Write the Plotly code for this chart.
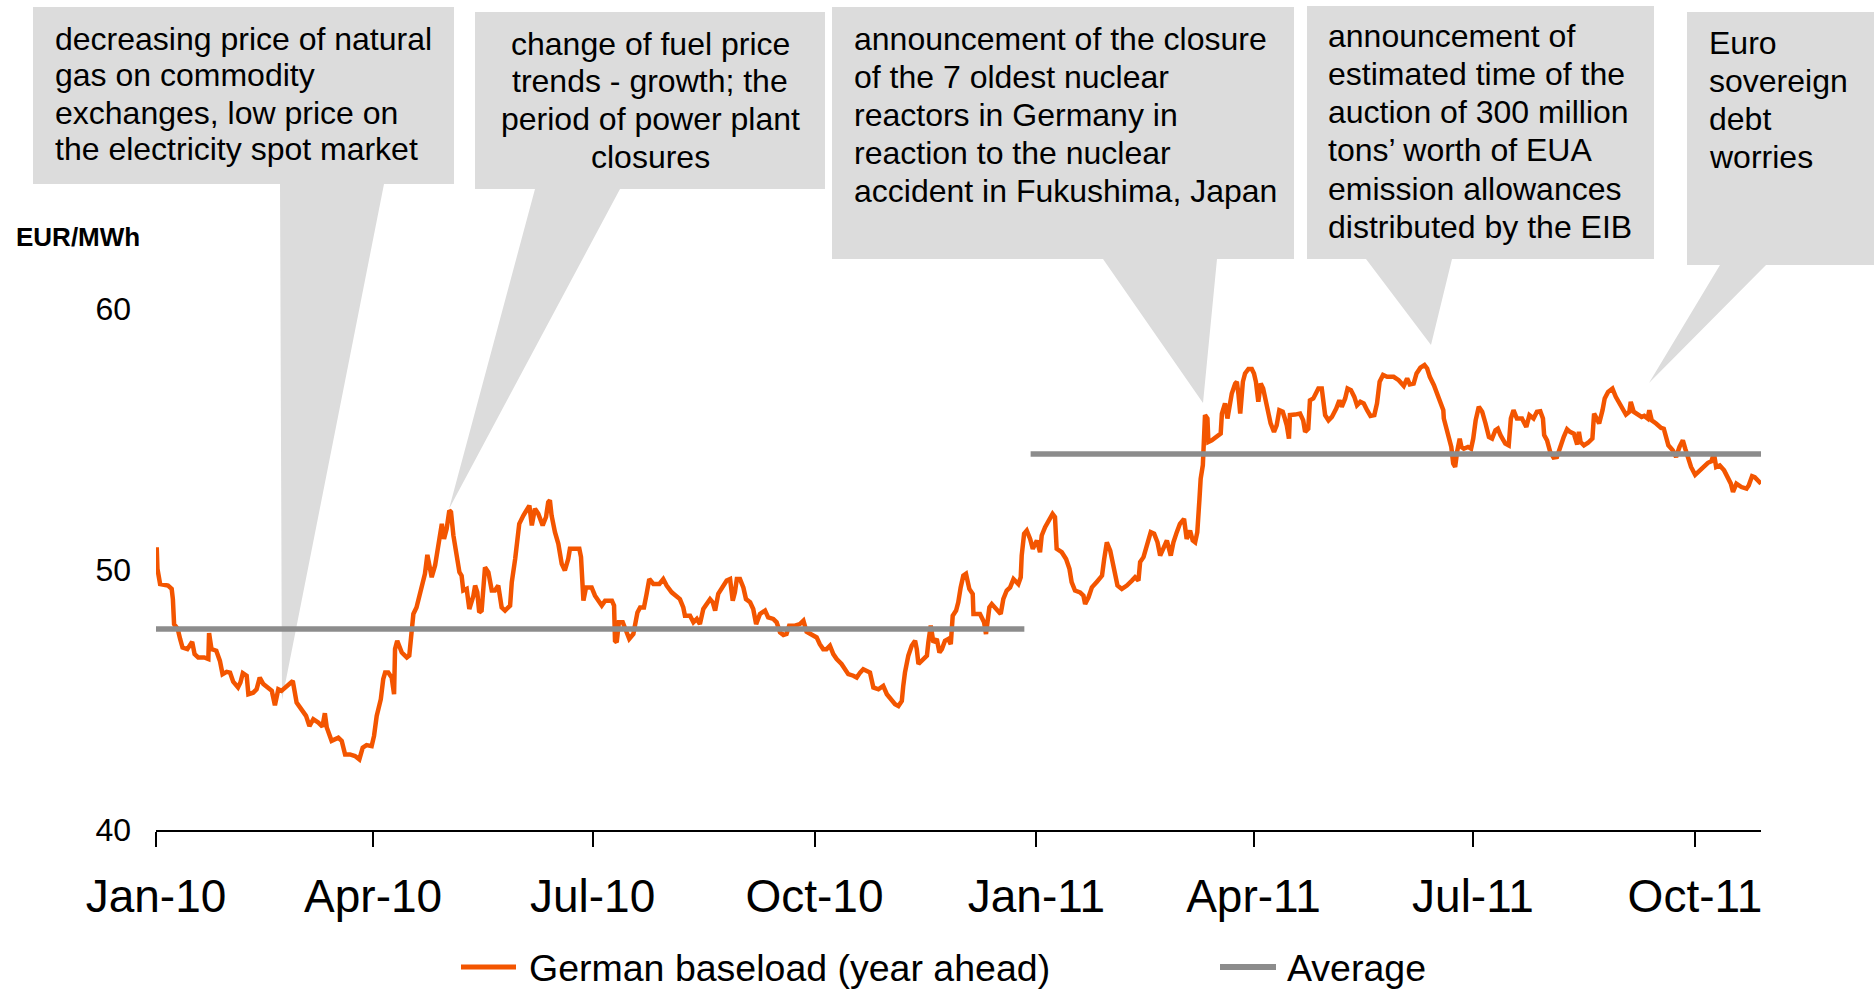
import pandas as pd
import plotly.graph_objects as go

# German baseload, year-ahead contract (EUR/MWh)
# x values are days counted from 1 Jan 2010
start = pd.Timestamp("2010-01-01")

days = [
    0.3, 0.6, 1.7, 5.0, 6.5, 7.0, 7.5, 9.0, 10.0, 11.0, 13.0, 15.0, 16.0, 17.5, 20.0, 21.7, 22.0, 23.0,
    25.0, 26.5, 27.6, 29.3, 30.7, 32.0, 34.0, 35.0, 36.0, 37.6, 38.3, 40.3, 41.7, 43.0, 44.5, 46.6, 48.0,
    49.3, 50.7, 52.0, 53.5, 56.7, 58.3, 60.4, 62.2, 63.6, 65.2, 67.3, 69.0, 70.0, 70.8, 72.8, 75.6, 77.0,
    78.4, 80.4, 82.5, 84.3, 85.7, 87.3, 89.4, 90.4, 91.5, 93.2, 94.2, 95.0, 96.3, 97.7, 98.7, 99.1, 100.0,
    101.9, 104.0, 105.0, 106.0, 106.7, 108.0, 109.4, 111.5, 112.5,
    114.3, 115.7, 117.0, 118.5, 119.4, 120.5, 121.6, 122.3, 123.3, 124.6, 125.8, 126.7, 127.4, 128.8,
    129.9, 131.6, 132.3, 133.2, 134.0, 135.0, 135.7, 136.4, 137.8, 139.2, 140.5, 141.9, 143.3, 144.7,
    146.8, 147.5, 148.9, 149.8, 150.6, 152.3, 153.7, 154.8, 155.8, 157.1, 158.5, 160.3, 161.7, 162.6,
    163.3, 164.0, 165.4, 166.8, 168.2, 169.5, 170.9, 171.6, 173.7, 175.5, 176.2, 177.2, 178.3, 180.6,
    182.0, 183.4, 184.8, 186.2, 189.0, 189.9, 190.3, 191.0, 191.9, 193.5, 195.1, 196.2, 197.9, 199.6,
    200.7, 202.3, 203.4, 204.5, 206.2, 208.7, 210.3, 211.7, 213.8, 215.2, 217.2, 218.6, 219.3, 221.4,
    222.8, 224.2, 225.5, 226.9, 228.3, 229.7, 230.8, 231.8, 233.1, 235.2, 236.6, 238.0, 239.1, 240.0,
    240.8, 242.1, 243.5, 244.6, 246.3, 247.6, 248.8, 250.4, 252.5, 253.8, 255.9, 257.3, 258.7, 260.1,
    261.4, 262.5, 264.9, 266.9, 268.4, 269.7, 271.8, 273.9, 275.2, 276.6, 278.0, 279.4, 280.8, 282.2,
    284.2, 285.6, 287.0, 289.1, 290.5, 291.9, 293.2, 296.0, 297.4, 299.5, 301.5, 303.0, 305.0, 306.4,
    307.8, 309.2, 309.8, 310.5, 311.9, 313.3, 314.7, 315.4, 316.1, 317.5, 319.6, 320.2, 321.2, 322.3,
    323.7, 324.8, 325.8, 327.1, 328.5, 329.5, 330.3, 331.7, 332.6, 333.6, 334.7, 335.8, 337.2,
    338.6, 338.9, 341.6, 343.3, 344.1, 345.5, 346.5, 348.6, 350.2, 351.3, 352.7, 354.1, 355.5, 357.5,
    358.5, 358.9, 359.9, 361.0, 362.4, 363.5, 365.2, 366.5, 367.2, 368.6, 370.0, 371.7, 372.7, 373.4,
    375.5, 377.3, 378.7, 379.6, 381.0, 383.1, 384.5, 385.2, 386.6, 388.0, 390.1, 392.2, 393.1, 394.2,
    395.6, 396.7, 397.6, 398.6, 400.4, 402.5, 404.6, 405.9, 407.3, 408.0, 409.4, 410.8, 412.4, 413.8,
    415.2, 416.3, 417.7, 419.1, 420.7, 421.8, 423.2, 424.5, 426.2, 427.3, 428.7, 429.8, 430.8, 431.7,
    432.6, 433.1, 434.0, 434.2, 434.9, 435.9, 436.3, 437.7, 439.8, 441.4, 441.9, 443.2, 444.2, 445.0,
    446.0, 447.4,
    448.1, 448.8, 449.5, 450.6, 451.5, 452.9, 454.3, 455.2, 456.0, 457.0, 458.0, 459.0, 460.2, 461.1,
    462.1, 463.5, 464.6, 465.7, 467.1, 468.0, 468.8, 469.7, 470.1, 472.2, 474.3, 475.6, 476.4, 477.7,
    478.4, 479.8, 480.9, 481.9, 483.3, 484.7, 486.1, 487.5, 489.3, 490.6, 491.6, 493.0, 494.0, 495.4,
    496.8, 497.9, 499.3, 500.7, 502.1, 503.5, 505.1, 506.2, 507.3, 508.7, 510.4, 513.1, 515.2, 517.3,
    518.7, 519.8, 521.4, 522.6, 524.2, 525.9, 527.0, 528.1, 529.8, 531.2, 532.6, 533.7, 533.9, 535.1,
    536.0, 537.0, 537.8, 538.6, 539.4, 540.5, 541.2, 542.2, 543.9, 545.2, 546.1, 547.1, 548.4, 549.8,
    551.2, 552.6, 553.9, 555.3, 556.3, 557.4, 559.4, 560.8,
    561.7, 562.8, 564.2, 566.3, 568.1, 569.4, 571.1, 572.5, 573.9, 575.0, 575.5, 576.7, 578.0, 579.4,
    580.8, 581.9, 583.6, 585.0, 586.2, 587.8, 589.2, 589.9, 590.6, 592.0, 593.7, 595.5, 596.2, 597.3,
    598.3, 599.7, 600.6, 602.0, 603.8, 605.2, 606.6, 608.0, 609.4, 610.8, 611.4, 612.6, 614.2, 615.9,
    617.0, 618.4, 619.1, 620.1, 621.9, 624.0, 625.1, 626.0, 627.0, 628.8, 630.2, 631.6, 633.0, 634.0,
    635.1, 636.4, 638.1, 639.9, 641.3, 643.4, 644.8, 645.9, 646.8, 648.3, 650.1, 651.8, 652.9, 653.8,
    655.2, 657.3, 659.4, 660.3, 661.7, 662.8, 664.0, 665.4,
]

price = [
    50.85, 50.02, 49.44, 49.38, 49.25, 48.86, 47.90, 47.71, 47.33, 47.00, 46.94, 47.22, 46.75, 46.62, 46.62, 46.56, 47.56, 46.94,
    46.88, 46.49, 45.98, 46.07, 46.04, 45.69, 45.47, 45.66, 46.02, 45.92, 45.21, 45.27, 45.40, 45.85, 45.60, 45.47, 45.34,
    44.79, 45.40, 45.34, 45.47, 45.72, 44.89, 44.63, 44.38, 43.99, 44.25, 44.12, 43.97, 44.48, 43.93, 43.42, 43.54, 43.42,
    42.90, 42.90, 42.84, 42.71, 43.16, 43.26, 43.22, 43.61, 44.38, 45.02, 45.79, 46.04, 46.04, 45.85, 45.21, 46.94, 47.26,
    46.81, 46.62, 46.69, 47.58, 48.29, 48.54, 49.06, 49.83, 50.56,
    49.70, 50.15, 50.98, 51.75, 51.17, 51.56, 52.26, 52.20, 51.30, 50.53, 49.89, 49.76, 49.19, 49.25,
    48.48, 48.99, 49.38, 49.12, 48.35, 48.42, 49.25, 50.08, 49.89, 49.19, 49.19, 49.38, 48.54, 48.42,
    48.61, 49.51, 50.40, 51.04, 51.75, 52.07, 52.26, 52.45, 51.69, 52.33, 52.13, 51.69, 52.01, 52.58,
    52.65, 52.07, 51.43, 50.98, 50.21, 49.96, 50.40, 50.79, 50.79, 50.79, 50.47, 48.80, 49.31, 49.31,
    48.99, 48.80, 48.61, 48.80, 48.80, 48.61, 47.26, 47.20, 47.97, 47.97, 47.65, 47.33, 47.52, 48.35,
    48.54, 48.54, 49.06, 49.63, 49.44, 49.44, 49.63, 49.38, 49.12, 48.99, 48.86, 48.54, 48.22, 48.22,
    47.97, 48.10, 47.90, 48.48, 48.67, 48.86, 48.74, 48.42, 49.06, 49.38, 49.57, 49.63, 48.80, 49.12,
    49.63, 49.63, 49.31, 48.86, 48.74, 48.48, 47.90, 48.29, 48.42, 48.16, 48.10, 47.97, 47.58, 47.48,
    47.52, 47.84, 47.84, 47.90, 48.03, 47.61, 47.52, 47.39, 47.13, 46.94, 46.94, 47.07, 46.75, 46.56,
    46.37, 46.17, 45.98, 45.92, 45.85, 46.04, 46.17, 46.04, 45.47, 45.40, 45.53, 45.21, 45.02, 44.83,
    44.76, 44.95, 45.53, 46.04, 46.69, 47.07, 47.26, 46.94, 46.37, 46.49, 46.69, 47.20, 47.84, 47.20,
    47.33, 46.81, 46.94, 47.26, 47.33, 47.13, 48.22, 48.42, 48.74, 49.31, 49.76, 49.83, 49.25,
    49.06, 48.29, 48.29, 47.97, 47.52, 48.54, 48.67, 48.42, 48.29, 48.87, 49.19, 49.31, 49.63, 49.44,
    49.70, 50.53, 51.37, 51.49, 51.17, 50.79, 51.11, 50.66, 51.30, 51.62, 51.88, 52.13, 52.01, 50.79,
    50.66, 50.40, 50.02, 49.51, 49.19, 49.12, 48.99, 48.67, 48.93, 49.31, 49.53, 49.76, 50.40, 51.04,
    50.72, 50.15, 49.76, 49.38, 49.25, 49.38, 49.57, 49.70, 49.57, 50.28, 50.47, 50.92, 51.43, 51.37,
    51.04, 50.53, 50.79, 51.11, 50.53, 51.04, 51.43, 51.75, 51.94, 51.17, 51.49, 51.11, 51.04, 51.43,
    52.71, 53.48, 54.00, 54.89, 55.92, 55.79, 54.89, 54.95, 55.08, 55.21, 55.98, 56.37, 55.79, 56.30,
    56.75, 57.13,
    57.20, 56.69, 55.98, 57.20, 57.52, 57.69, 57.69, 57.52, 57.20, 56.43, 57.13, 56.94, 56.49, 56.11,
    55.60, 55.28, 55.53, 56.11, 56.05, 55.79, 55.53, 55.02, 55.92, 55.94, 55.98, 55.72, 55.28, 55.40,
    56.49, 56.56, 56.75, 56.94, 56.94, 55.92, 55.72, 55.85, 56.17, 56.49, 56.24, 56.56, 56.94, 56.88,
    56.62, 56.30, 56.43, 56.37, 56.11, 55.89, 55.92, 56.37, 57.20, 57.46, 57.39, 57.39, 57.26, 57.04,
    57.33, 57.10, 57.13, 57.52, 57.74, 57.84, 57.71, 57.39, 57.07, 56.75, 56.43, 56.11, 55.79, 55.40,
    55.08, 54.70, 54.06, 53.93, 54.51, 55.02, 54.70, 54.63, 54.70, 54.63, 55.02, 55.72, 56.24, 56.05,
    55.60, 55.08, 55.02, 55.34, 55.40, 55.15, 54.83, 54.76,
    55.79, 56.11, 55.79, 55.79, 55.47, 55.92, 55.79, 56.05, 56.07, 55.79, 55.15, 54.95, 54.51, 54.29,
    54.31, 54.63, 55.08, 55.38, 55.28, 55.21, 54.79, 55.28, 54.89, 54.76, 54.86, 55.02, 55.98, 55.79,
    55.60, 56.11, 56.56, 56.81, 56.94, 56.62, 56.37, 56.17, 55.94, 56.05, 56.43, 56.05, 55.94, 55.85,
    55.89, 55.79, 56.11, 55.72, 55.60, 55.43, 55.40, 55.02, 54.76, 54.57, 54.31, 54.70, 54.95, 54.63,
    54.25, 53.93, 53.63, 53.80, 53.93, 54.09, 54.15, 54.44, 53.93, 53.99, 53.80, 53.54, 53.29, 52.97,
    53.29, 53.16, 53.10, 53.22, 53.58, 53.54, 53.42, 53.29,
]

# yearly averages: (first day, last day) and level
avg_periods = [(0.0, 360.0), (362.6, 665.4)]
avg_values = [47.71, 54.43]

tick_dates = ["2010-01-01", "2010-04-01", "2010-07-01", "2010-10-01",
              "2011-01-01", "2011-04-01", "2011-07-01", "2011-10-01"]
tick_text = ["Jan-10", "Apr-10", "Jul-10", "Oct-10", "Jan-11", "Apr-11", "Jul-11", "Oct-11"]
y_ticks = [40, 50, 60]

callout_texts = [
    ["decreasing price of natural", "gas on commodity", "exchanges, low price on",
     "the electricity spot market"],
    ["change of fuel price", "trends - growth; the", "period of power plant", "closures"],
    ["announcement of the closure", "of the 7 oldest nuclear", "reactors in Germany in",
     "reaction to the nuclear", "accident in Fukushima, Japan"],
    ["announcement of", "estimated time of the", "auction of 300 million",
     "tons\u2019 worth of EUA", "emission allowances", "distributed by the EIB"],
    ["Euro", "sovereign", "debt", "worries"],
]

ORANGE = "#F35500"
GRAY = "#8C8C8C"
BOX = "#DCDCDC"
FONT = "Liberation Sans, Arial, sans-serif"

# page geometry in pixels
W, H = 1874, 990
L, R, T, B = 156, 1761, 0, 830


def fx(px):
    return (px - L) / (R - L)


def fy(py):
    return (B - py) / (B - T)


# callout layout (pixels): box, pointer base on box bottom, pointer tip, text anchor
callout_layout = [
    dict(box=(33, 7, 454, 184), base=(280, 384), tip=(282, 700), tx=53, anchor="left", y0=38.5, dy=37),
    dict(box=(475, 12, 825, 189), base=(535, 620), tip=(449, 509), tx=650, anchor="center", y0=44, dy=37.5),
    dict(box=(832, 7, 1294, 259), base=(1103, 1217), tip=(1203, 403), tx=852, anchor="left", y0=38.8, dy=38),
    dict(box=(1307, 6, 1654, 259), base=(1366, 1452), tip=(1431, 345), tx=1326, anchor="left", y0=35.8, dy=38.2),
    dict(box=(1687, 12, 1874, 265), base=(1720, 1766), tip=(1649, 383), tx=1707, anchor="left", y0=43, dy=38),
]

dates = [start + pd.Timedelta(days=d) for d in days]

fig = go.Figure()
fig.add_trace(go.Scatter(x=dates, y=price, mode="lines", name="German baseload (year ahead)",
                         line=dict(color=ORANGE, width=4.5), showlegend=False))
for (d0, d1), v in zip(avg_periods, avg_values):
    fig.add_trace(go.Scatter(x=[start + pd.Timedelta(days=d0), start + pd.Timedelta(days=d1)],
                             y=[v, v], mode="lines", name="Average",
                             line=dict(color=GRAY, width=5.5), showlegend=False))

shapes = []
annotations = []
for lines, c in zip(callout_texts, callout_layout):
    x0, y0, x1, y1 = c["box"]
    bl, br = c["base"]
    tx, ty = c["tip"]
    pts = [(x0, y0), (x1, y0), (x1, y1), (br, y1), (tx, ty), (bl, y1), (x0, y1)]
    path = "M " + " L ".join(f"{fx(a):.5f},{fy(b):.5f}" for a, b in pts) + " Z"
    shapes.append(dict(type="path", path=path, xref="paper", yref="paper",
                       fillcolor=BOX, line=dict(width=0), layer="below"))
    for i, txt in enumerate(lines):
        annotations.append(dict(text=txt, xref="paper", yref="paper",
                                x=fx(c["tx"]), y=fy(c["y0"] + i * c["dy"]),
                                xanchor=c["anchor"], yanchor="middle", showarrow=False,
                                font=dict(size=32, color="black", family=FONT)))

# y axis unit label
annotations.append(dict(text="<b>EUR/MWh</b>", xref="paper", yref="paper", x=fx(14), y=fy(237),
                        xanchor="left", yanchor="middle", showarrow=False,
                        font=dict(size=26, color="black", family=FONT)))

# legend drawn by hand so the sample lines match the original length
legend_items = [("German baseload (year ahead)", ORANGE, 5, 461, 516, 527),
                ("Average", GRAY, 6, 1220, 1276, 1285)]
for name, col, w, lx0, lx1, ltx in legend_items:
    shapes.append(dict(type="line", xref="paper", yref="paper", x0=fx(lx0), x1=fx(lx1),
                       y0=fy(967), y1=fy(967), line=dict(color=col, width=w)))
    annotations.append(dict(text=name, xref="paper", yref="paper", x=fx(ltx), y=fy(968),
                            xanchor="left", yanchor="middle", showarrow=False,
                            font=dict(size=37.5, color="black", family=FONT)))

fig.update_layout(
    width=W, height=H,
    margin=dict(l=L, r=W - R, t=T, b=H - B, pad=0),
    paper_bgcolor="white", plot_bgcolor="white",
    font=dict(family=FONT, color="black"),
    shapes=shapes, annotations=annotations,
    showlegend=False,
)
fig.update_xaxes(
    type="date",
    range=[start, start + pd.Timedelta(days=665.4)],
    tickvals=tick_dates, ticktext=tick_text,
    showline=True, linecolor="black", linewidth=2,
    ticks="outside", ticklen=15, tickwidth=1.5, tickcolor="black",
    tickfont=dict(size=46, color="black"),
    ticklabelstandoff=10,
    showgrid=False, zeroline=False,
)
fig.update_yaxes(
    range=[40, 40 + (B - T) / 26.06],
    tickvals=y_ticks,
    showline=False, showgrid=False, zeroline=False, ticks="",
    tickfont=dict(size=32, color="black"),
    ticklabelstandoff=24,
)

# drop the default page margin so the figure sits at the window's top-left corner
fig.write_html("out.html", config={"displayModeBar": False},
               post_script="document.body.style.margin='0';document.body.style.overflow='hidden';")
